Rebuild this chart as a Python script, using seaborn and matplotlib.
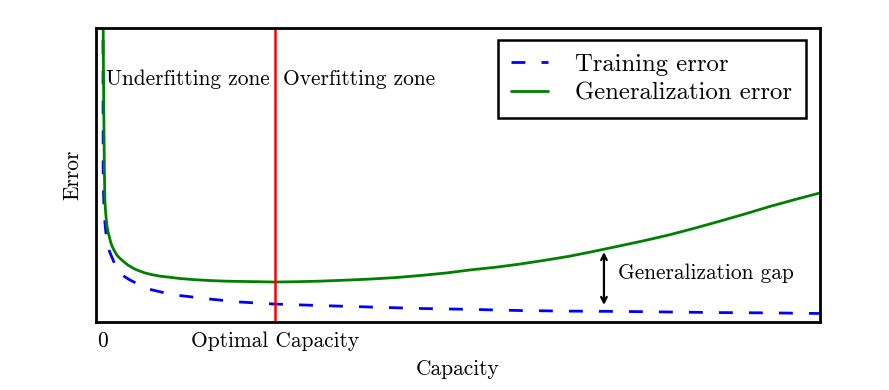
import matplotlib
matplotlib.use("Agg")
import matplotlib.pyplot as plt
import seaborn as sns
import pandas as pd

# Capacity axis: 0 at origin, "Optimal Capacity" at 1.0
optimal_capacity = 1.0
xtick_positions = [0.0, optimal_capacity]
xtick_labels = ["0", "Optimal Capacity"]

gen_capacity = [0.0012, 0.0029, 0.0058, 0.0087, 0.0116, 0.0145, 0.0174, 0.0233, 0.029,
                0.0349, 0.0465, 0.055, 0.064, 0.081, 0.095, 0.110, 0.128, 0.145, 0.165,
                0.186, 0.215, 0.244, 0.285, 0.331, 0.39, 0.448, 0.53, 0.622, 0.71, 0.797,
                0.90, 1.0, 1.13, 1.262, 1.40, 1.552, 1.70, 1.843, 2.0, 2.134, 2.28,
                2.424, 2.57, 2.715, 2.86, 3.006, 3.15, 3.297, 3.44, 3.587, 3.73,
                3.878, 4.02, 4.169]
gen_error = [1.06, 0.891, 0.687, 0.517, 0.415, 0.385, 0.364, 0.327, 0.310,
             0.296, 0.269, 0.256, 0.245, 0.228, 0.219, 0.211, 0.202, 0.194, 0.187,
             0.180, 0.173, 0.167, 0.161, 0.156, 0.152, 0.148, 0.144, 0.141, 0.139, 0.138,
             0.137, 0.136, 0.137, 0.139, 0.142, 0.146, 0.151, 0.158, 0.167, 0.177, 0.186,
             0.197, 0.210, 0.224, 0.241, 0.259, 0.277, 0.297, 0.319, 0.343, 0.367,
             0.393, 0.416, 0.439]

train_capacity = [0.0005, 0.0017, 0.0058, 0.0116, 0.023, 0.038, 0.052, 0.070, 0.087,
                  0.105, 0.122, 0.157, 0.215, 0.273, 0.360, 0.448, 0.622, 0.797, 1.0,
                  1.262, 1.552, 1.843, 2.134, 2.424, 2.715, 3.006, 3.297, 3.587, 3.878,
                  4.169]
train_error = [1.06, 0.483, 0.398, 0.340, 0.272, 0.241, 0.221, 0.196, 0.177,
               0.165, 0.156, 0.143, 0.126, 0.111, 0.099, 0.090, 0.078, 0.068, 0.061,
               0.056, 0.051, 0.046, 0.043, 0.039, 0.037, 0.036, 0.034, 0.032, 0.031,
               0.029]

gap_at = 2.913
gap_top, gap_bottom = 0.238, 0.058

sns.set_style("white")
plt.rcParams["font.family"] = ["cmr10", "DejaVu Serif"]
plt.rcParams["axes.formatter.use_mathtext"] = True
plt.rcParams["mathtext.fontset"] = "cm"
plt.rcParams["text.color"] = "black"
plt.rcParams["axes.labelcolor"] = "black"
plt.rcParams["xtick.color"] = "black"

fig = plt.figure(figsize=(8.89, 3.9), dpi=100)
ax = fig.add_axes([96 / 889, 68 / 390, 724 / 889, 294 / 390])

df_train = pd.DataFrame({"Capacity": train_capacity, "Error": train_error})
df_gen = pd.DataFrame({"Capacity": gen_capacity, "Error": gen_error})

sns.lineplot(data=df_train, x="Capacity", y="Error", ax=ax, color="blue",
             linewidth=2.0, linestyle=(0, (5.0, 5.8)), label="Training error",
             sort=False, estimator=None)
sns.lineplot(data=df_gen, x="Capacity", y="Error", ax=ax, color="green",
             linewidth=2.0, label="Generalization error", sort=False, estimator=None)

ax.axvline(optimal_capacity, color="red", linewidth=1.8)

ax.set_xlim(-0.04, 4.169)
ax.set_ylim(0, 1)

ax.set_xticks(xtick_positions)
ax.set_xticklabels(xtick_labels, fontsize=15.4)
ax.set_yticks([])
ax.tick_params(axis="x", direction="in", length=5, width=1, pad=7, colors="black")

for s in ax.spines.values():
    s.set_linewidth(2)
    s.set_color("black")
    s.set_visible(True)

ax.set_xlabel("Capacity", fontsize=15.4, labelpad=6)
ax.set_ylabel("Error", fontsize=15.4, labelpad=10)

ax.text(0.017, 0.827, "Underfitting zone", fontsize=15.4, va="center", ha="left")
ax.text(1.047, 0.827, "Overfitting zone", fontsize=15.4, va="center", ha="left")

ax.annotate("", xy=(gap_at, gap_top), xytext=(gap_at, gap_bottom),
            arrowprops=dict(arrowstyle="<->", color="black", lw=1.6,
                            shrinkA=0, shrinkB=0))
ax.text(2.994, 0.167, "Generalization gap", fontsize=15.4, va="center", ha="left")

leg = ax.legend(loc="upper right", bbox_to_anchor=(0.9807, 0.959), borderaxespad=0,
                fontsize=17.8, frameon=True, fancybox=False,
                framealpha=1, edgecolor="black", handlelength=1.5,
                handletextpad=1.1, borderpad=0.55, labelspacing=0.25)
leg.get_frame().set_linewidth(1.8)

fig.savefig("out.png", dpi=100)
